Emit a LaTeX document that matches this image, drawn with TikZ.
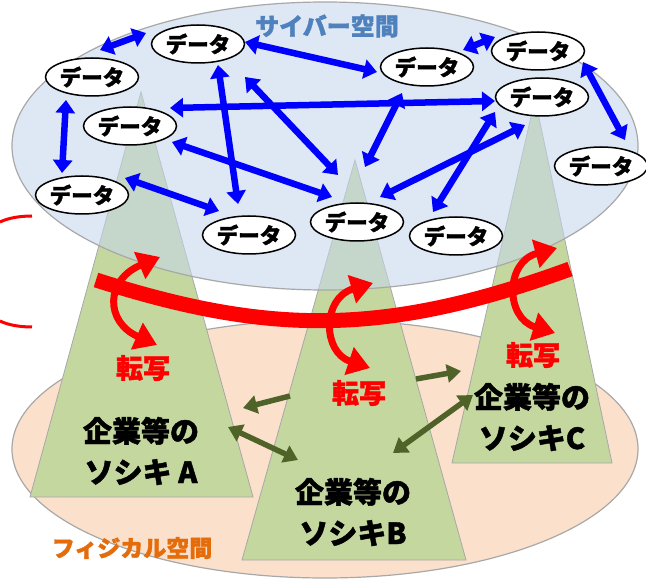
\documentclass[tikz,border=0pt]{standalone}
\usepackage{fontspec}
\setmainfont{Noto Sans CJK JP}[BoldFeatures={FakeBold=1.5}]
\usetikzlibrary{arrows.meta,shapes.geometric}
\definecolor{cyberfill}{RGB}{198,214,236}
\definecolor{physfill}{RGB}{251,224,204}
\definecolor{trifill}{RGB}{196,215,159}
\definecolor{edgegrey}{RGB}{168,168,168}
\definecolor{titleblue}{RGB}{79,129,189}
\definecolor{orangetxt}{RGB}{228,108,10}
\definecolor{darkolive}{RGB}{79,98,40}
\tikzset{
  spacearea/.style={draw=edgegrey, line width=1.2pt},
  orgtri/.style={draw=edgegrey, line width=0.8pt, fill=trifill},
  dnode/.style={ellipse, draw=black, line width=1.5pt, fill=white, minimum width=93pt, minimum height=38pt, inner sep=0pt, font=\fontsize{21.5}{21.5}\selectfont\bfseries},
  barr/.style={draw=blue, line width=6.5pt, {Triangle[length=13pt,width=19pt]}-{Triangle[length=13pt,width=19pt]}},
  redarr/.style={draw=red, line width=7pt, {Triangle[length=22pt,width=28pt]}-{Triangle[length=22pt,width=28pt]}},
  garr/.style={draw=darkolive, line width=5.5pt, -{Triangle[length=14pt,width=18pt]}},
  garr2/.style={draw=darkolive, line width=5.5pt, {Triangle[length=14pt,width=18pt]}-{Triangle[length=14pt,width=18pt]}},
  orgtext/.style={align=center, inner sep=0pt, font=\fontsize{29}{41}\selectfont\bfseries},
  tensha/.style={text=red, inner sep=0pt, font=\fontsize{27}{27}\selectfont\bfseries}
}
\begin{document}
\begin{tikzpicture}[x=1pt,y=-1pt]
\useasboundingbox (0,0) rectangle (646,580);
% physical space
\draw[spacearea, fill=physfill] (325,449) ellipse [x radius=313, y radius=129];
% organisation triangles
\draw[orgtri] (141,92) -- (253,497) -- (30,497) -- cycle;
\draw[orgtri] (355,160) -- (466,560) -- (242,560) -- cycle;
\draw[orgtri] (535,99) -- (612,463) -- (452,463) -- cycle;
% cyber space
\draw[spacearea, fill=cyberfill, fill opacity=0.58] (325,146) ellipse [x radius=313, y radius=144];
% thin red arcs at left
\draw[red, line width=3pt] (32,216) .. controls (20,216) and (8,218) .. (0,222);
\draw[red, line width=3pt] (32,327) .. controls (20,327) and (8,325) .. (0,321);
% red band
\draw[red, line width=15pt] (96,280) .. controls (266,334) and (381,338) .. (570,269);
% transfer arrows
\draw[redarr] (160,257) .. controls (105,280) and (105,322) .. (157,345);
\draw[redarr] (373,283) .. controls (322,298) and (322,352) .. (370,368);
\draw[redarr] (557,248) .. controls (505,262) and (505,318) .. (555,333);
% data nodes
\node[dnode] (D1) at (198,44) {データ};
\node[dnode] (D2) at (92,77) {データ};
\node[dnode] (D3) at (130,126) {データ};
\node[dnode] (D4) at (82,195) {データ};
\node[dnode] (D5) at (249,235) {データ};
\node[dnode] (D6) at (427,67) {データ};
\node[dnode] (D7) at (538,51) {データ};
\node[dnode] (D8) at (542,97) {データ};
\node[dnode] (D9) at (601,166) {データ};
\node[dnode] (D10) at (357,222) {データ};
\node[dnode] (D11) at (456,236) {データ};
% blue data links
\draw[barr] ([shift={(8,-27)}]D2.center) -- ([shift={(-52,-11)}]D1.center);
\draw[barr] ([shift={(-26,23)}]D2.center) -- ([shift={(-20,-22)}]D4.center);
\draw[barr] ([shift={(43,-17)}]D4.center) -- ([shift={(-30,-24)}]D5.center);
\draw[barr] ([shift={(20,21)}]D1.center) -- ([shift={(-11,-31)}]D5.center);
\draw[barr] ([shift={(40,-18)}]D3.center) -- ([shift={(-47,4)}]D8.center);
\draw[barr] ([shift={(42,16)}]D3.center) -- ([shift={(-25,-25)}]D10.center);
\draw[barr] ([shift={(47,33)}]D1.center) -- ([shift={(-19,-47)}]D10.center);
\draw[barr] ([shift={(47,-2)}]D1.center) -- ([shift={(-50,5)}]D6.center);
\draw[barr] ([shift={(36,-17)}]D6.center) -- ([shift={(-43,-14)}]D7.center);
\draw[barr] ([shift={(45,11)}]D7.center) -- ([shift={(24,-26)}]D9.center);
\draw[barr] ([shift={(-25,26)}]D6.center) -- ([shift={(8,-55)}]D10.center);
\draw[barr] ([shift={(-47,15)}]D8.center) -- ([shift={(-23,-24)}]D11.center);
\draw[barr] ([shift={(-17,28)}]D8.center) -- ([shift={(23,-25)}]D10.center);
% labels
\node[text=titleblue, inner sep=0pt, font=\fontsize{24}{24}\selectfont\bfseries] (cyber) at (327,26) {サイバー空間};
\node[text=orangetxt, inner sep=0pt, font=\fontsize{23}{23}\selectfont\bfseries] (phys) at (132,548) {フィジカル空間};
\node[tensha] (tA) at (143,368) {転写};
\node[tensha] (tB) at (359,393) {転写};
\node[tensha] (tC) at (533,355) {転写};
\node[orgtext] (orgA) at (141,451) {企業等の\\ソシキ A};
\node[orgtext] (orgB) at (353,512) {企業等の\\ソシキB};
\node[orgtext] (orgC) at (532,417) {企業等の\\ソシキC};
% organisation links
\coordinate (gB1) at (290,396);
\coordinate (gA1) at (243,408);
\coordinate (gA2) at (228,427);
\coordinate (gB2) at (298,460);
\coordinate (gB3) at (416,379);
\coordinate (gC1) at (461,371);
\coordinate (gB4) at (393,453);
\coordinate (gC2) at (473,395);
\draw[garr] (gB1) -- (gA1);
\draw[garr2] (gA2) -- (gB2);
\draw[garr] (gB3) -- (gC1);
\draw[garr2] (gB4) -- (gC2);
\end{tikzpicture}
\end{document}
